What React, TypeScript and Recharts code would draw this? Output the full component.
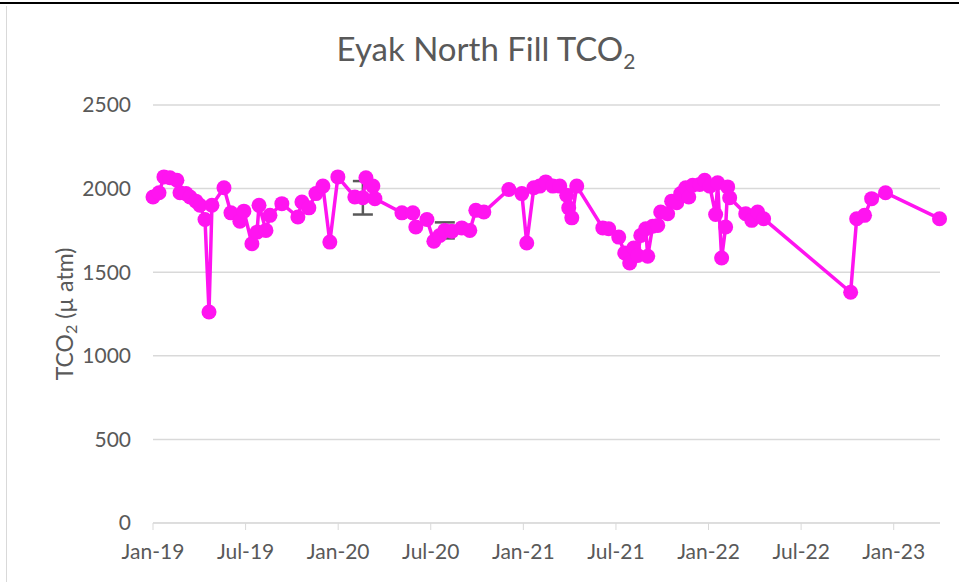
import {
  ComposedChart,
  Line,
  Scatter,
  ErrorBar,
  XAxis,
  YAxis,
  CartesianGrid,
} from 'recharts'

// months since Jan 2019 for each sample
const months = [
  0, 0.39, 0.71, 1.1, 1.55, 1.75, 2.14, 2.4, 2.78, 3.04, 3.37, 3.63, 3.82, 4.6, 5.05, 5.63, 5.89,
  6.41, 6.74, 6.87, 7.32, 7.58, 8.35, 9.39, 9.65, 10.1, 10.56, 11.01, 11.46, 11.98, 13.08, 13.6,
  13.8, 14.25, 14.38, 16.13, 16.84, 17.03, 17.75, 18.2, 18.59, 18.91, 19.37, 20.01, 20.53, 20.92,
  21.44, 23.06, 23.9, 24.22, 24.68, 25.06, 25.45, 25.91, 26.36, 26.81, 26.94, 27.14, 27.46, 29.15,
  29.53, 30.18, 30.57, 30.89, 31.15, 31.41, 31.61, 31.93, 32.06, 32.38, 32.71, 32.9, 33.35, 33.61,
  33.94, 34.2, 34.52, 34.72, 34.97, 35.43, 35.75, 36.08, 36.46, 36.59, 36.85, 37.11, 37.24, 37.37,
  38.41, 38.8, 39.18, 39.57, 45.21, 45.6, 46.11, 46.57, 47.47, 50.97,
]

const tco2 = [
  1950, 1975, 2070, 2065, 2050, 1975, 1970, 1950, 1925, 1900, 1815, 1262, 1900, 2005, 1855, 1805, 1865,
  1670, 1740, 1900, 1750, 1840, 1910, 1830, 1920, 1885, 1970, 2015, 1680, 2070, 1950, 1945,
  2065, 2015, 1940, 1855, 1855, 1770, 1815, 1685, 1720, 1750, 1745, 1765, 1750, 1870,
  1860, 1995, 1970, 1675, 2005, 2015, 2040, 2015, 2015, 1960, 1885, 1825, 2015, 1765,
  1760, 1710, 1615, 1555, 1645, 1600, 1720, 1760, 1595, 1775, 1780, 1860, 1850, 1925,
  1915, 1970, 2005, 1950, 2020, 2025, 2050, 2015, 1845, 2035, 1585, 1770, 2010, 1945,
  1850, 1810, 1860, 1820, 1380, 1820, 1840, 1940, 1975, 1820,
]

// samples with error bars
const errMonths = [13.6, 18.91]
const errCenters = [1945, 1750]
const errSizes = [100, 48]

const tickMonths = [0, 6, 12, 18, 24, 30, 36, 42, 48]
const tickLabels = ['Jan-19', 'Jul-19', 'Jan-20', 'Jul-20', 'Jan-21', 'Jul-21', 'Jan-22', 'Jul-22', 'Jan-23']
const yTicks = [0, 500, 1000, 1500, 2000, 2500]

const data = months.map((m, i) => ({ m, v: tco2[i] }))
const errData = errMonths.map((m, i) => ({ m, v: errCenters[i], e: errSizes[i] }))

const FONT = 'Lato, "Open Sans", sans-serif'
const GREY = '#595959'
const MAGENTA = '#ff14f0'

function YLabel(props: any) {
  const { viewBox } = props
  const cx = 64
  const cy = viewBox.y + viewBox.height / 2
  return (
    <text
      x={cx}
      y={cy}
      transform={`rotate(-90 ${cx} ${cy})`}
      textAnchor="middle"
      dominantBaseline="central"
      fill={GREY}
      fontSize={23}
      fontFamily={FONT}
    >
      TCO<tspan fontSize={16} dy={6}>2</tspan>
      <tspan dy={-6}> (µ atm)</tspan>
    </text>
  )
}

export default function App() {
  return (
    <div style={{ position: 'absolute', left: 0, top: 0, width: 959, height: 582, background: '#fff' }}>
      <div style={{ position: 'absolute', left: 0, top: 2, width: 959, height: 2, background: '#000' }} />
      <div style={{ position: 'absolute', left: 6, top: 6, width: 1, height: 576, background: '#d9d9d9' }} />
      <div
        style={{
          position: 'absolute',
          top: 28,
          left: 0,
          width: 972,
          textAlign: 'center',
          fontFamily: FONT,
          fontSize: 33,
          color: GREY,
        }}
      >
        Eyak North Fill TCO<sub style={{ fontSize: 21 }}>2</sub>
      </div>
      <ComposedChart
        width={959}
        height={582}
        margin={{ top: 105, right: 19, bottom: 0, left: 0 }}
        style={{ position: 'absolute', left: 0, top: 0 }}
      >
        <CartesianGrid vertical={false} stroke="#d9d9d9" strokeWidth={1.5} />
        <XAxis
          type="number"
          dataKey="m"
          domain={[0, 51]}
          ticks={tickMonths}
          tickFormatter={(m: number) => tickLabels[tickMonths.indexOf(m)]}
          stroke="#d9d9d9"
          height={59}
          tickSize={7}
          tickMargin={14}
          tick={{ fill: GREY, fontSize: 21, fontFamily: FONT }}
        />
        <YAxis
          type="number"
          dataKey="v"
          domain={[0, 2500]}
          ticks={yTicks}
          width={153}
          axisLine={false}
          tickLine={false}
          tickMargin={16}
          tick={{ fill: GREY, fontSize: 21, fontFamily: FONT }}
          label={<YLabel />}
        />
        <Scatter data={errData} dataKey="v" shape={() => <g />} isAnimationActive={false}>
          <ErrorBar dataKey="e" direction="y" width={10} stroke={GREY} strokeWidth={2.5} />
        </Scatter>
        <Line
          data={data}
          dataKey="v"
          stroke={MAGENTA}
          strokeWidth={3.5}
          dot={{ r: 7.5, fill: MAGENTA, stroke: MAGENTA, strokeWidth: 0 }}
          activeDot={false}
          isAnimationActive={false}
        />
      </ComposedChart>
    </div>
  )
}
